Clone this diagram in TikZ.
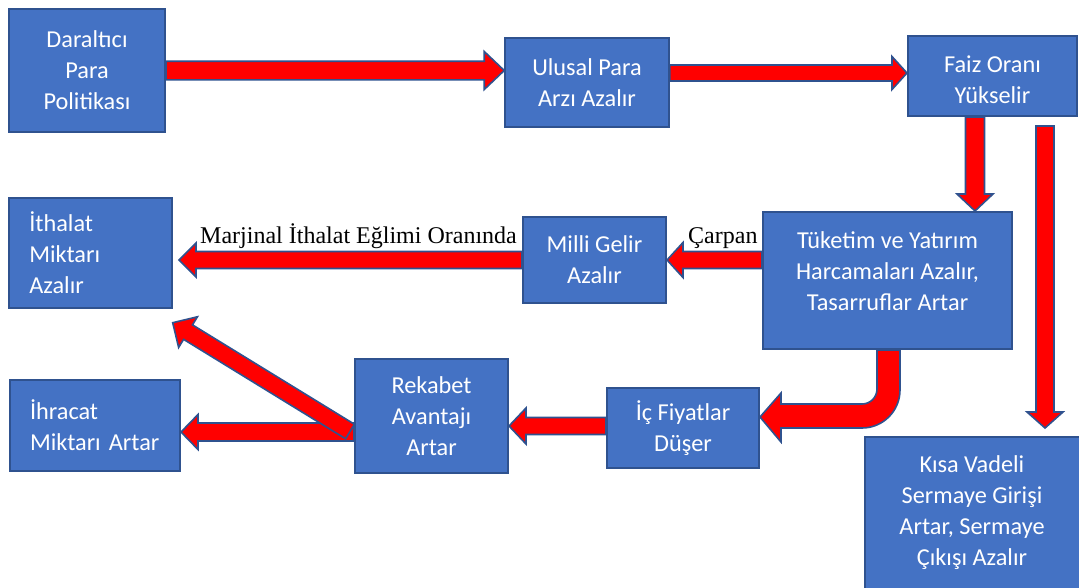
\documentclass[tikz,border=0pt]{standalone}
\usepackage{fontspec}
\setmainfont{Carlito}
\newfontfamily\seriffont{Liberation Serif}
\usetikzlibrary{calc}
\definecolor{boxfill}{HTML}{4472C4}
\definecolor{boxline}{HTML}{2F528F}
\definecolor{arrred}{HTML}{FF0000}
\begin{document}
\begin{tikzpicture}[x=1pt,y=-1pt,
  boxfont/.style={font=\fontsize{24.3}{31}\selectfont},
  box/.style={draw=boxline, fill=boxfill, line width=2pt, text=white, align=center, boxfont, inner sep=0pt},
  boxtext/.style={text=white, align=center, boxfont, inner sep=0pt},
  lab/.style={font=\seriffont\fontsize{24}{28}\selectfont, inner sep=0pt},
  shaftw/.store in=\bsw, headw/.store in=\bhw, headl/.store in=\bhl,
  shaftw=9pt, headw=18pt, headl=17pt,
  barrow/.style={draw=boxline, fill=arrred, line width=1.6pt, line join=miter,
    to path={let \p1=(\tikztostart), \p2=(\tikztotarget), \p3=($(\p2)!\bhl!(\p1)$) in
      ($(\p1)!\bsw!90:(\p2)$) -- ($(\p3)!\bsw!90:(\p2)$) -- ($(\p3)!\bhw!90:(\p2)$) -- (\p2)
      -- ($(\p3)!\bhw!-90:(\p2)$) -- ($(\p3)!\bsw!-90:(\p2)$) -- ($(\p1)!\bsw!-90:(\p2)$) -- cycle}}
]
\fill[white] (0,0) rectangle (1079,587);
\useasboundingbox (0,0) rectangle (1079,587);

% boxes
\node[box, minimum width=156pt, minimum height=123pt] (dar) at (87,70.5) {Daraltıcı\\Para\\Politikası};
\node[box, minimum width=163.5pt, minimum height=89pt] (ulu) at (587,82.5) {Ulusal Para\\Arzı Azalır};
\node[box, minimum width=169pt, minimum height=80pt] (faiz) at (992.5,76) {};
\node[boxtext] (faizt) at (992.5,80) {Faiz Oranı\\Yükselir};
\node[box, minimum width=163.4pt, minimum height=110pt, text width=122pt, align=left] (ith) at (90.3,253) {İthalat\\Miktarı\\Azalır};
\node[box, minimum width=143pt, minimum height=86pt] (mil) at (594.5,260) {Milli Gelir\\Azalır};
\node[box, minimum width=249pt, minimum height=137pt] (tuk) at (887.5,280.5) {};
\node[boxtext] (tukt) at (887.5,271) {Tüketim ve Yatırım\\Harcamaları Azalır,\\Tasarruflar Artar};
\node[box, minimum width=170pt, minimum height=91pt, text width=130pt, align=left] (ihr) at (95,425.5) {İhracat\\Miktarı Artar};
\node[box, minimum width=153pt, minimum height=114pt] (rek) at (431.5,416) {Rekabet\\Avantajı\\Artar};
\node[box, minimum width=152pt, minimum height=80pt] (ic) at (683,428) {İç Fiyatlar\\Düşer};
\node[box, minimum width=220pt, minimum height=156pt] (kis) at (975,515) {};
\node[boxtext] (kist) at (972,513) {Kısa Vadeli\\Sermaye Girişi\\Artar, Sermaye\\Çıkışı Azalır};

% coordinates for free arrow ends
\coordinate (k0) at (1045,126);
\coordinate (k1) at (1045,428);
\coordinate (ithtip) at (179,260);
\coordinate (dtail) at (350,431.5);
\coordinate (dtip) at (172.7,322.7);

% arrows
\draw[barrow, shaftw=9.3pt, headw=19pt, headl=20pt] (dar.east) to (ulu.west |- dar.east);
\draw[barrow, shaftw=8pt, headw=16.5pt, headl=15pt] (ulu.east |- 0,73) to (faiz.west |- 0,73);
\draw[barrow, shaftw=9.5pt, headw=18pt, headl=17pt] (faiz.south -| 975,0) to (tuk.north -| 975,0);
\draw[barrow, shaftw=9pt, headw=18pt, headl=16pt] (k0) to (k1);
\draw[barrow, shaftw=8.5pt, headw=17.5pt, headl=16pt] (tuk.west |- 0,260) to (mil.east |- 0,260);
\draw[barrow, shaftw=8.5pt, headw=17pt, headl=17pt] (mil.west |- 0,260) to (ithtip);
\draw[barrow, shaftw=8.5pt, headw=18pt, headl=17pt] (ic.west |- 0,426) to (rek.east |- 0,426);
\draw[barrow, shaftw=9pt, headw=17.5pt, headl=17pt] (rek.west |- 0,432) to (ihr.east |- 0,432);
\draw[barrow, shaftw=8.5pt, headw=18pt, headl=18pt] (dtail) to (dtip);

% curved arrow from Tuketim to Ic Fiyatlar
\draw[draw=boxline, fill=arrred, line width=1.6pt, line join=miter]
  (tuk.south -| 877,0) -- (877,389) .. controls (877,397.3) and (870.3,404) .. (862,404)
  -- (781,404) -- (781,393) -- (ic.east |- 0,417) -- (781,442) -- (781,428) -- (862,428)
  .. controls (883,428) and (900,411) .. (900,390) -- (tuk.south -| 900,0) -- cycle;

% labels
\node[lab, anchor=base east] (lab1) at (517,243) {Marjinal İthalat Eğlimi Oranında};
\node[lab, anchor=base west] (lab2) at (688,243) {Çarpan};
\end{tikzpicture}
\end{document}
